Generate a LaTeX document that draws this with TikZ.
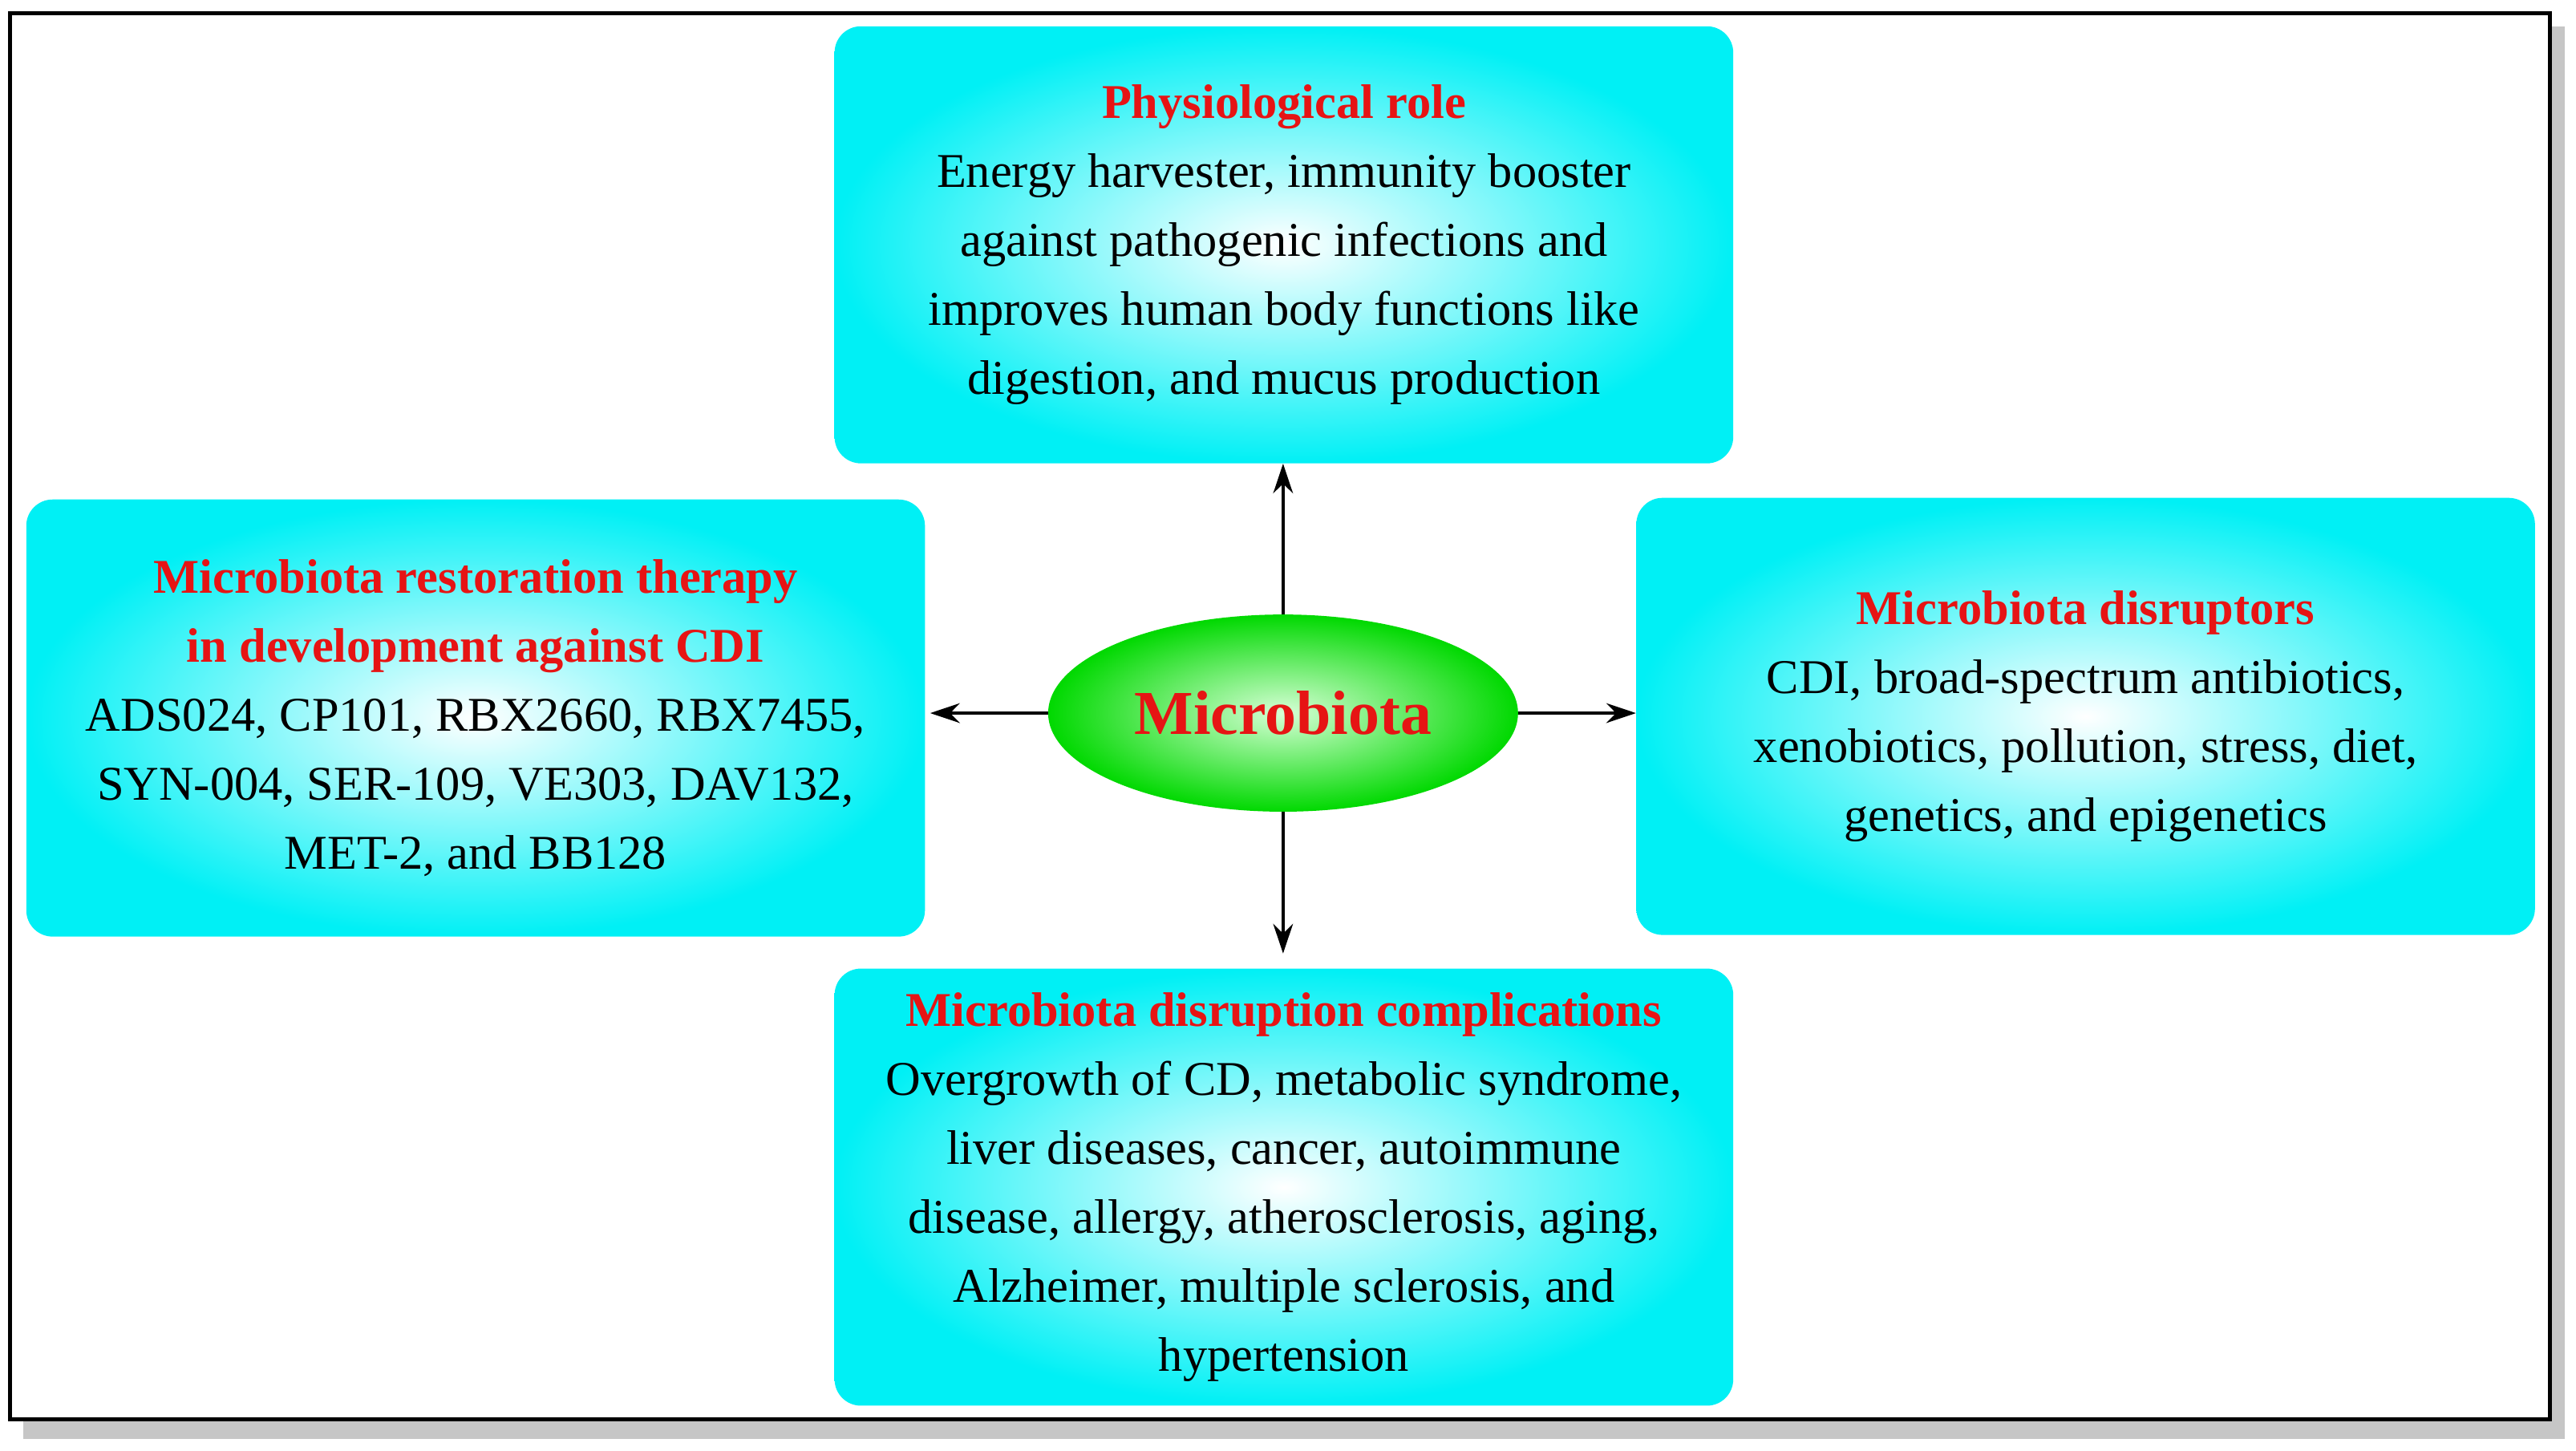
\documentclass[tikz,border=0pt]{standalone}
\usepackage{fontspec}
\setmainfont{Liberation Serif}
\usetikzlibrary{shapes.geometric,arrows.meta}
\definecolor{tred}{RGB}{230,20,20}
\definecolor{bcyan}{RGB}{0,240,245}
\tikzset{
  infobox/.style={rounded corners=16pt, inner color=white, outer color=bcyan, minimum width=547pt, minimum height=266pt, align=center, font=\fontsize{29.5}{42}\selectfont, inner sep=0pt},
  conn/.style={-{Stealth[length=18pt,width=12pt]}, line width=2pt}
}
\newcommand{\ttlx}[1]{\textcolor{tred}{\textbf{#1}}}
\begin{document}
\begin{tikzpicture}[x=1pt,y=-1pt]
\useasboundingbox (0,0) rectangle (1568,883);
\fill[gray!45] (14,16) rectangle (1561,876);
\draw[line width=2.5pt, fill=white] (6,8) rectangle (1552,864);
\node[infobox] (top) at (781.5,149) {\ttlx{Physiological role}\\Energy harvester, immunity booster\\against pathogenic infections and\\improves human body functions like\\digestion, and mucus production};
\node[infobox] (left) at (289.5,437) {\ttlx{Microbiota restoration therapy}\\\ttlx{in development against CDI}\\ADS024, CP101, RBX2660, RBX7455,\\SYN-004, SER-109, VE303, DAV132,\\MET-2, and BB128};
\node[infobox] (right) at (1269.5,436) {\ttlx{Microbiota disruptors}\\CDI, broad-spectrum antibiotics,\\xenobiotics, pollution, stress, diet,\\genetics, and epigenetics};
\node[infobox] (bot) at (781.5,722.5) {\ttlx{Microbiota disruption complications}\\Overgrowth of CD, metabolic syndrome,\\liver diseases, cancer, autoimmune\\disease, allergy, atherosclerosis, aging,\\Alzheimer, multiple sclerosis, and\\hypertension};
\node[ellipse, inner color=white!60!green!40, outer color=green!85!black, minimum width=286pt, minimum height=120pt, inner sep=0pt, font=\fontsize{38}{42}\selectfont\bfseries, text=tred] (m) at (781,434) {Microbiota};
\draw[conn] (m.north) -- (m.north |- top.south);
\draw[conn] (m.south) -- ([yshift=9pt]m.south |- bot.north);
\draw[conn] (m.west) -- ([xshift=3pt]left.east |- m.west);
\draw[conn] (m.east) -- (right.west |- m.east);
\end{tikzpicture}
\end{document}
